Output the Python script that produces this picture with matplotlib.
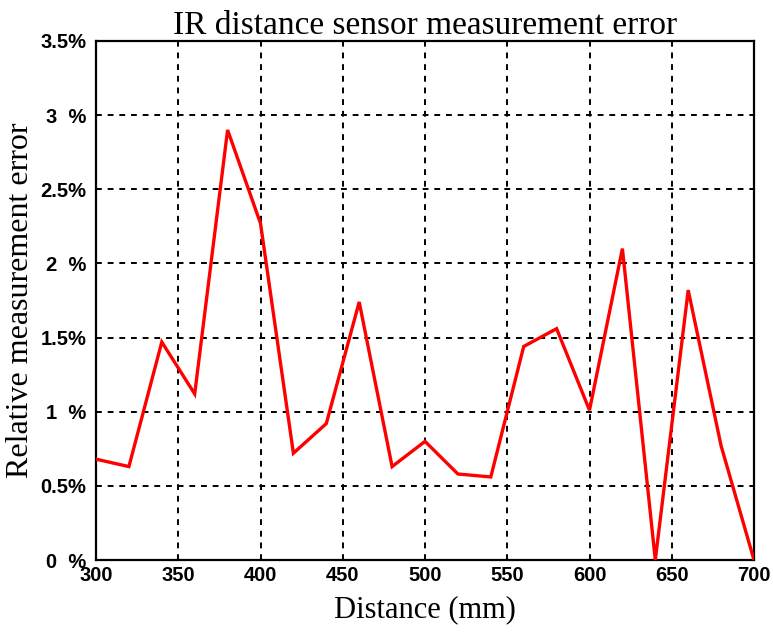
import matplotlib
matplotlib.use("Agg")
import matplotlib.pyplot as plt

distance = [300, 320, 340, 360, 380, 400, 420, 440, 460, 480, 500,
            520, 540, 560, 580, 600, 620, 640, 660, 680, 700]
error_pct = [0.68, 0.63, 1.47, 1.12, 2.90, 2.27, 0.72, 0.92, 1.74, 0.63, 0.80,
             0.58, 0.56, 1.44, 1.56, 1.01, 2.10, 0.0, 1.82, 0.77, 0.0]
x_ticks = [300, 350, 400, 450, 500, 550, 600, 650, 700]
y_ticks = [0, 0.5, 1, 1.5, 2, 2.5, 3, 3.5]
y_tick_labels = ["0  %", "0.5%", "1  %", "1.5%", "2  %", "2.5%", "3  %", "3.5%"]

fig = plt.figure(figsize=(7.73, 6.37), dpi=100)
ax = fig.add_axes([96/773, 1-560/637, (754-96)/773, (560-41)/637])

ax.plot(distance, error_pct, color="#ff0000", lw=2.4, solid_joinstyle="miter", zorder=3)
ax.set_xlim(300, 700)
ax.set_ylim(0, 3.5)
ax.set_xticks(x_ticks)
ax.set_yticks(y_ticks)
ax.set_yticklabels(y_tick_labels)
ax.grid(True, color="black", linestyle=(0, (3, 3)), linewidth=1.4)
for s in ax.spines.values():
    s.set_linewidth(1.6)
    s.set_color("black")
ax.tick_params(length=0)
ax.tick_params(axis="y", pad=7)
ax.tick_params(axis="x", pad=4)
for lab in ax.get_xticklabels() + ax.get_yticklabels():
    lab.set_fontfamily("Liberation Sans")
    lab.set_fontweight("bold")
    lab.set_fontsize(14.5)

serif = "Liberation Serif"
ax.set_title("IR distance sensor measurement error", fontfamily=serif, fontsize=24, pad=4)
ax.set_xlabel("Distance (mm)", fontfamily=serif, fontsize=22, labelpad=8)
ax.set_ylabel("Relative measurement error", fontfamily=serif, fontsize=23, labelpad=4)

fig.savefig("out.png", dpi=100)
